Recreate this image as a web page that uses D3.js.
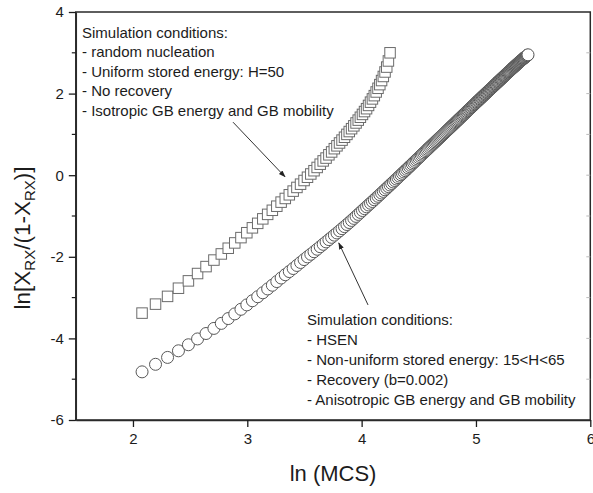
<!DOCTYPE html>
<html>
<head>
<meta charset="utf-8">
<script src="https://cdn.jsdelivr.net/npm/d3@7"></script>
<style>
  body { margin: 0; background: #fff; }
  svg { display: block; font-family: "Liberation Sans", Arial, sans-serif; }
</style>
</head>
<body>
<div id="chart"><svg></svg></div>
<script>

// MCS steps of the uniform-energy run (squares) and ln[X/(1-X)]
const mcsSquare = [8,9,10,11,12,13,14,15,16,17,18,19,20,21,22,23,24,25,26,27,28,29,30,31,32,33,34,35,36,37,38,39,
    40,41,42,43,44,45,46,47,48,49,50,51,52,53,54,55,56,57,58,59,60,61,62,63,64,65,66,67,68,69,70];
const ratioSquare = [-3.38,-3.16,-2.97,-2.77,-2.59,-2.41,-2.24,-2.08,-1.93,-1.79,-1.66,-1.53,-1.41,-1.29,-1.18,-1.07,
    -0.96,-0.86,-0.76,-0.66,-0.57,-0.48,-0.39,-0.30,-0.22,-0.13,-0.05,0.03,0.11,0.19,0.27,0.35,0.42,0.50,0.57,0.65,
    0.72,0.79,0.86,0.93,1.00,1.07,1.14,1.21,1.28,1.35,1.42,1.49,1.56,1.63,1.71,1.79,1.87,1.95,2.04,2.13,2.22,2.32,
    2.42,2.53,2.65,2.80,3.00];

// MCS steps of the HSEN run (circles)
const mcsCircle = [8,9,10,11,12,13,14,15,16,17,18,19,20,21,22,23,24,25,26,27,28,29,30,31,32,33,34,35,36,37,38,39,
    40,41,42,43,44,45,46,47,48,49,50,51,52,53,54,55,56,57,58,59,60,61,62,63,64,65,66,67,68,69,70,71,72,73,74,75,
    76,77,78,79,80,81,82,83,84,85,86,87,88,89,90,91,92,93,94,95,96,97,98,99,100,101,102,103,104,105,106,107,108,
    109,110,111,112,113,114,115,116,117,118,119,120,121,122,123,124,125,126,127,128,129,130,131,132,133,134,135,
    136,137,138,139,140,141,142,143,144,145,146,147,148,149,150,151,152,153,154,155,156,157,158,159,160,161,162,
    163,164,165,166,167,168,169,170,171,172,173,174,175,176,177,178,179,180,181,182,183,184,185,186,187,188,189,
    190,191,192,193,194,195,196,197,198,199,200,201,202,203,204,205,206,207,208,209,210,211,212,213,214,215,216,
    217,218,219,220,221,222,223,224,225,226,227,228,229,230,231,232,233,234];
const ratioCircle = [-4.82,-4.635,-4.466,-4.304,-4.156,-4.013,-3.88,-3.755,-3.632,-3.514,-3.399,-3.287,-3.179,-3.077,
    -2.979,-2.882,-2.788,-2.697,-2.607,-2.52,-2.439,-2.362,-2.287,-2.212,-2.139,-2.068,-2.002,-1.938,-1.876,-1.815,
    -1.753,-1.694,-1.635,-1.579,-1.523,-1.469,-1.416,-1.364,-1.311,-1.26,-1.209,-1.16,-1.109,-1.059,-1.01,-0.961,
    -0.913,-0.866,-0.82,-0.775,-0.73,-0.687,-0.645,-0.602,-0.559,-0.518,-0.477,-0.437,-0.397,-0.358,-0.318,-0.28,
    -0.241,-0.204,-0.167,-0.13,-0.094,-0.058,-0.023,0.011,0.045,0.079,0.112,0.145,0.178,0.211,0.243,0.275,0.307,
    0.338,0.369,0.399,0.429,0.459,0.489,0.518,0.547,0.576,0.604,0.632,0.66,0.687,0.714,0.74,0.766,0.792,0.818,
    0.843,0.868,0.893,0.918,0.942,0.966,0.991,1.015,1.039,1.063,1.086,1.11,1.133,1.156,1.178,1.201,1.224,1.246,
    1.268,1.29,1.311,1.333,1.354,1.375,1.396,1.417,1.438,1.459,1.479,1.499,1.519,1.539,1.559,1.579,1.598,1.617,
    1.637,1.656,1.675,1.693,1.712,1.731,1.749,1.767,1.785,1.803,1.821,1.838,1.856,1.873,1.89,1.907,1.924,1.941,
    1.958,1.974,1.991,2.007,2.024,2.04,2.056,2.072,2.088,2.104,2.119,2.135,2.151,2.166,2.181,2.197,2.212,2.227,
    2.242,2.257,2.272,2.286,2.301,2.316,2.33,2.344,2.359,2.373,2.387,2.401,2.415,2.429,2.443,2.457,2.471,2.485,
    2.498,2.512,2.525,2.539,2.552,2.565,2.578,2.591,2.604,2.616,2.629,2.641,2.653,2.666,2.678,2.69,2.702,2.714,
    2.726,2.738,2.75,2.762,2.774,2.785,2.797,2.808,2.82,2.832,2.841,2.851,2.862,2.872,2.882,2.892,2.902,2.912,
    2.922,2.931,2.941,2.951];

const xTicks = [2, 3, 4, 5, 6];
const yTicks = [-6, -4, -2, 0, 2, 4];
const yMinorTicks = [-5, -3, -1, 1, 3];

const notesSquare = ["Simulation conditions:", "- random nucleation", "- Uniform stored energy: H=50",
    "- No recovery", "- Isotropic GB energy and GB mobility"];
const notesCircle = ["Simulation conditions:", "- HSEN", "- Non-uniform stored energy: 15<H<65",
    "- Recovery (b=0.002)", "- Anisotropic GB energy and GB mobility"];

let width = 593;
let height = 493;
let margin = {top: 12, right: 2.7, bottom: 73, left: 75.8};
let ink = "#1c1c1c";
let squareStroke = "#6b6b6b";
let circleStroke = "#585858";

let svg = d3.select("#chart svg")
    .attr("width", width)
    .attr("height", height);

const x = d3.scaleLinear().domain([1.5, 6]).range([margin.left, width - margin.right]);
const y = d3.scaleLinear().domain([-6, 4]).range([height - margin.bottom, margin.top]);

let squares = mcsSquare.map((m, i) => ({x: Math.log(m), y: ratioSquare[i]}));
let circles = mcsCircle.map((m, i) => ({x: Math.log(m), y: ratioCircle[i]}));

// frame
svg.append("rect")
    .attr("x", x(1.5)).attr("y", y(4))
    .attr("width", x(6) - x(1.5)).attr("height", y(-6) - y(4))
    .attr("fill", "none").attr("stroke", "#2a2a2a").attr("stroke-width", 1.5);

// inward ticks on the right side (faint)
svg.append("g")
    .selectAll("line")
    .data(d3.range(-5, 4))
    .join("line")
    .attr("x1", x(6)).attr("x2", x(6) - 4)
    .attr("y1", d => y(d)).attr("y2", d => y(d))
    .attr("stroke", "#bbb");

let fmt = d => String(d);

let gx = svg.append("g")
    .attr("transform", `translate(0,${y(-6)})`)
    .call(d3.axisBottom(x).tickValues(xTicks).tickFormat(fmt).tickSize(7).tickPadding(6).tickSizeOuter(0));

let gy = svg.append("g")
    .attr("transform", `translate(${x(1.5)},0)`)
    .call(d3.axisLeft(y).tickValues(yTicks).tickFormat(fmt).tickSize(7).tickPadding(5).tickSizeOuter(0));

svg.append("g")
    .selectAll("line")
    .data(yMinorTicks)
    .join("line")
    .attr("x1", x(1.5)).attr("x2", x(1.5) - 4)
    .attr("y1", d => y(d)).attr("y2", d => y(d))
    .attr("stroke", ink).attr("stroke-width", 1.2);

[gx, gy].forEach(g => {
    g.select(".domain").attr("stroke", "#2a2a2a").attr("stroke-width", 1.5);
    g.selectAll(".tick line").attr("stroke", ink).attr("stroke-width", 1.3);
    g.selectAll(".tick text")
        .attr("fill", ink)
        .attr("font-size", 15)
        .attr("font-family", "Liberation Sans, Arial, sans-serif");
});

// axis titles
svg.append("text")
    .attr("x", (x(1.5) + x(6)) / 2)
    .attr("y", 481)
    .attr("text-anchor", "middle")
    .attr("font-size", 22)
    .attr("fill", ink)
    .text("ln (MCS)");

let yTitle = svg.append("text")
    .attr("transform", "translate(30,238) rotate(-90)")
    .attr("text-anchor", "middle")
    .attr("font-size", 22.5)
    .attr("fill", ink);
yTitle.append("tspan").text("ln[X");
yTitle.append("tspan").attr("font-size", 15).attr("dy", 5).text("RX");
yTitle.append("tspan").attr("dy", -5).text("/(1-X");
yTitle.append("tspan").attr("font-size", 15).attr("dy", 5).text("RX");
yTitle.append("tspan").attr("dy", -5).text(")]");

// markers
let marks = svg.append("g");

marks.append("g")
    .selectAll("circle")
    .data(circles)
    .join("circle")
    .attr("cx", d => x(d.x))
    .attr("cy", d => y(d.y))
    .attr("r", 6)
    .attr("fill", "#fff")
    .attr("stroke", circleStroke)
    .attr("stroke-width", 1);

let side = 10.5;
marks.append("g")
    .selectAll("rect")
    .data(squares)
    .join("rect")
    .attr("x", d => x(d.x) - side / 2)
    .attr("y", d => y(d.y) - side / 2)
    .attr("width", side)
    .attr("height", side)
    .attr("fill", "#fff")
    .attr("stroke", squareStroke)
    .attr("stroke-width", 1);

// annotation arrows
svg.append("defs").append("marker")
    .attr("id", "head")
    .attr("viewBox", "0 0 10 10")
    .attr("refX", 9).attr("refY", 5)
    .attr("markerWidth", 7).attr("markerHeight", 7)
    .attr("markerUnits", "userSpaceOnUse")
    .attr("orient", "auto")
    .append("path")
    .attr("d", "M0,1.5L10,5L0,8.5Z")
    .attr("fill", "#222");

let arrows = [
    {from: [2.875, 1.30], to: [3.33, -0.04]},
    {from: [4.056, -3.18], to: [3.80, -1.66]}
];

svg.append("g")
    .selectAll("line")
    .data(arrows)
    .join("line")
    .attr("x1", d => x(d.from[0])).attr("y1", d => y(d.from[1]))
    .attr("x2", d => x(d.to[0])).attr("y2", d => y(d.to[1]))
    .attr("stroke", "#333")
    .attr("stroke-width", 1)
    .attr("marker-end", "url(#head)");

// condition notes
function notes(lines, left, top, step) {
    svg.append("g")
        .selectAll("text")
        .data(lines)
        .join("text")
        .attr("x", left)
        .attr("y", (d, i) => top + i * step)
        .attr("font-size", 15)
        .attr("fill", ink)
        .text(d => d);
}

notes(notesSquare, 82, 37.5, 19.5);
notes(notesCircle, 307, 324.5, 20);

</script>
</body>
</html>
